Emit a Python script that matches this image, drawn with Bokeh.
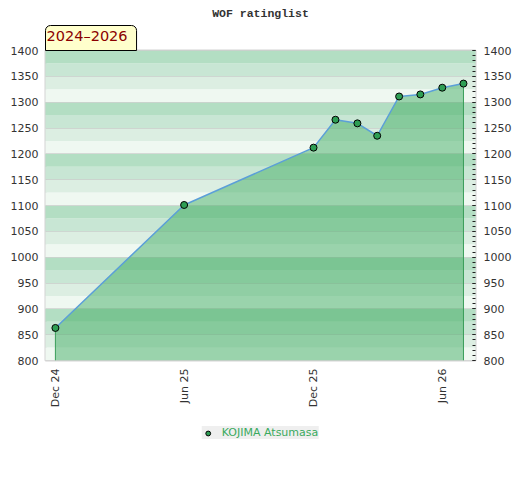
import math
from datetime import datetime
from bokeh.plotting import figure
from bokeh.layouts import column
from bokeh.models import (Range1d, LinearAxis, FixedTicker, DatetimeTickFormatter,
                          Legend, LegendItem, Title)
from bokeh.embed import file_html
from bokeh.resources import INLINE

# ---- data ----
dates = ["2024-12-01", "2025-06-01", "2025-12-01", "2026-01-01", "2026-02-01",
         "2026-03-01", "2026-04-01", "2026-05-01", "2026-06-01", "2026-07-01"]
ratings = [863, 1101, 1212, 1266, 1259, 1235, 1311, 1315, 1328, 1336]
tick_dates = ["2024-12-01", "2025-06-01", "2025-12-01", "2026-06-01"]
y_ticks = list(range(800, 1401, 50))
player = "KOJIMA Atsumasa"
title_text = "WOF ratinglist"
period_text = "2024\u20132026"
y_min, y_max = 800, 1400

xs = [datetime.fromisoformat(d) for d in dates]
tick_ms = [datetime.fromisoformat(d).timestamp() * 1000 for d in tick_dates]

xr = Range1d(datetime(2024, 11, 17), datetime(2026, 7, 18))
p = figure(frame_width=430, frame_height=310, x_axis_type="datetime",
           x_range=xr, y_range=Range1d(y_min, y_max),
           output_backend="svg", toolbar_location=None,
           min_border_left=45, min_border_right=37, min_border_top=0,
           min_border_bottom=60,
           background_fill_color="white", border_fill_color="white")

p.outline_line_color = "#d4d4d4"
p.outline_line_width = 2
p.xgrid.visible = False
p.ygrid.visible = False

# background bands (25-unit bands, 4 shades per 100)
band_colors = ["#eff8f1", "#dceee2", "#c8e6d4", "#b3dec3"]
for i, lo in enumerate(range(y_min, y_max, 25)):
    p.quad(left=datetime(2024, 1, 1), right=datetime(2027, 1, 1),
           bottom=lo, top=lo + 25, fill_color=band_colors[i % 4], line_color=None)

# faint grid lines
p.hspan(y=y_ticks, line_color="#c4c4c4", line_alpha=0.6, line_width=1)

# area under the line
p.varea(x=xs, y1=[y_min] * len(xs), y2=ratings, fill_color="#3ba95d", fill_alpha=0.47)
p.segment(x0=[xs[0], xs[-1]], y0=[ratings[0], ratings[-1]],
          x1=[xs[0], xs[-1]], y1=[y_min, y_min], line_color="#3a9e5a", line_width=1)
p.line(xs, ratings, line_color="#5b9fd8", line_width=1.5)
marker_style = dict(size=7, marker="circle", fill_color="#2e9e54",
                    line_color="black", line_width=1)
p.scatter(xs, ratings, **marker_style)

# axes
font = "DejaVu Sans"
xa = p.xaxis[0]
xa.ticker = FixedTicker(ticks=tick_ms)
fmt = "%b %y"
xa.formatter = DatetimeTickFormatter(years=fmt, months=fmt, days=fmt, hours=fmt,
                                     minutes=fmt, seconds=fmt, milliseconds=fmt,
                                     microseconds=fmt, minsec=fmt, hourmin=fmt)
xa.major_label_orientation = math.pi / 2
xa.axis_line_color = None
xa.major_tick_line_color = None
xa.minor_tick_line_color = None
xa.major_tick_out = 0
xa.major_tick_in = 0
xa.major_label_standoff = 8

ya = p.yaxis[0]
ya.ticker = FixedTicker(ticks=y_ticks)
ya.axis_line_color = None
ya.major_tick_line_color = None
ya.minor_tick_line_color = None
ya.major_tick_out = 0
ya.major_tick_in = 0
ya.major_label_standoff = 7

ra = LinearAxis(ticker=FixedTicker(ticks=y_ticks, minor_ticks=list(range(y_min, y_max + 1, 10))))
ra.axis_line_color = None
ra.major_tick_in = 3
ra.major_tick_out = 0
ra.minor_tick_in = 3
ra.minor_tick_out = 0
ra.major_tick_line_color = "#222222"
ra.minor_tick_line_color = "#222222"
ra.major_label_standoff = 8
p.add_layout(ra, "right")

for ax in (xa, ya, ra):
    ax.major_label_text_font = font
    ax.major_label_text_font_size = "11px"
    ax.major_label_text_color = "#333333"

# titles
p.add_layout(Title(text=period_text, align="left", text_font=font,
                   text_font_size="14.5px", text_font_style="normal",
                   text_color="#8b0000", background_fill_color="#ffffcc",
                   border_line_color="black", border_line_width=1,
                   padding=(1, 9, 2, 7), border_radius=(5, 5, 0, 0),
                   standoff=0, offset=0), "above")
p.title.text = title_text
p.title.align = "center"
p.title.standoff = 8
p.title.text_font = "Liberation Mono"
p.title.text_font_style = "bold"
p.title.text_font_size = "11.5px"
p.title.text_color = "#333333"

# legend strip below the chart (same data, out of this strip's view)
q = figure(frame_width=430, frame_height=36, x_range=xr, y_range=Range1d(0, 1),
           output_backend="svg", toolbar_location=None,
           min_border_left=45, min_border_right=37, min_border_top=0,
           min_border_bottom=0, outline_line_color=None,
           background_fill_color="white", border_fill_color="white")
q.axis.visible = False
q.grid.visible = False
pts = q.scatter(xs, ratings, **marker_style)
legend = Legend(items=[LegendItem(label=player, renderers=[pts])],
                location="top", orientation="horizontal",
                background_fill_color="#efefef", background_fill_alpha=1,
                border_line_color=None, label_text_color="#3aaa5e",
                label_text_font=font, label_text_font_size="11px",
                glyph_width=12, glyph_height=12, padding=5, margin=6,
                label_standoff=8)
q.add_layout(legend, "center")

layout = column(p, q, spacing=0)
open("out.html", "w").write(file_html(layout, INLINE))
